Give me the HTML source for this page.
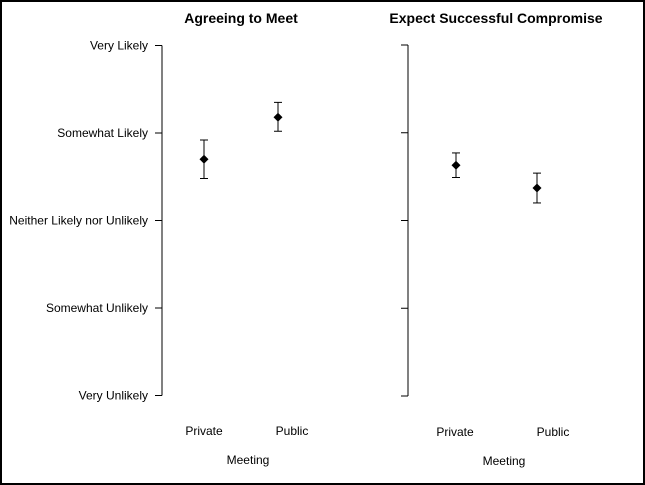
<!DOCTYPE html>
<html><head><meta charset="utf-8"><style>
body{margin:0;background:#fff}
svg{display:block;font-family:"Liberation Sans",Arial,sans-serif}
</style></head><body>
<svg width="645" height="485">
<rect x="1" y="1" width="643" height="483" fill="#fff" stroke="#000" stroke-width="2"/>
<g id="plot"></g>
</svg>
<script>
const levels=["Very Unlikely","Somewhat Unlikely","Neither Likely nor Unlikely","Somewhat Likely","Very Likely"];
const categories=["Private","Public"];
const meetMean=[3.70,4.18];
const meetLow=[3.48,4.02];
const meetHigh=[3.92,4.35];
const compMean=[3.63,3.37];
const compLow=[3.49,3.20];
const compHigh=[3.77,3.54];
const NS="http://www.w3.org/2000/svg";
const g=document.getElementById('plot');
function mk(t,a,txt){const e=document.createElementNS(NS,t);for(const k in a)e.setAttribute(k,a[k]);if(txt!==undefined)e.textContent=txt;g.appendChild(e);return e;}
const panels=[
 {title:"Agreeing to Meet",axisX:162,x0:204,dx:74,lx0:204,ldx:88,top:45.5,bot:395.5,tickDir:-7,labels:true,titleX:241,mean:meetMean,low:meetLow,high:meetHigh,catY:435,xlabY:464},
 {title:"Expect Successful Compromise",axisX:408,x0:456,dx:81,lx0:455,ldx:98,top:45,bot:396,tickDir:-7,labels:false,titleX:496,mean:compMean,low:compLow,high:compHigh,catY:436,xlabY:465}
];
panels.forEach((p,pi)=>{
 const y=v=>p.bot-(v-1)/(levels.length-1)*(p.bot-p.top);
 const xs=i=>p.x0+i*p.dx;
 let e=mk('text',{x:p.titleX,y:23,'text-anchor':'middle','font-size':14,'font-weight':'bold'},p.title);
 
 
 e=mk('line',{x1:p.axisX,x2:p.axisX,y1:y(5),y2:y(1),stroke:'#000'});
 
 
 levels.forEach((l,i)=>{
  const yy=y(i+1);
  e=mk('line',{x1:p.axisX+p.tickDir,x2:p.axisX,y1:yy,y2:yy,stroke:'#000'});
  
  
  if(p.labels){
   e=mk('text',{x:p.axisX-14,y:yy+4,'text-anchor':'end','font-size':12},l);
   
   
  }
 });
 categories.forEach((c,i)=>{
  const x=xs(i);
  e=mk('line',{x1:x,x2:x,y1:y(p.high[i]),y2:y(p.low[i]),stroke:'#000'});
  
  
  [p.high[i],p.low[i]].forEach(v=>{
   e=mk('line',{x1:x-4,x2:x+4,y1:y(v),y2:y(v),stroke:'#000'});
   
   
  });
  const ym=y(p.mean[i]);
  e=mk('polygon',{points:`${x},${ym-4.5} ${x+4.5},${ym} ${x},${ym+4.5} ${x-4.5},${ym}`,fill:'#000'});
  
  
  e=mk('text',{x:p.lx0+i*p.ldx,y:p.catY,'text-anchor':'middle','font-size':12},c);
  
  
 });
 e=mk('text',{x:p.lx0+p.ldx/2,y:p.xlabY,'text-anchor':'middle','font-size':12},"Meeting");
 
 
});
</script>
</body></html>
